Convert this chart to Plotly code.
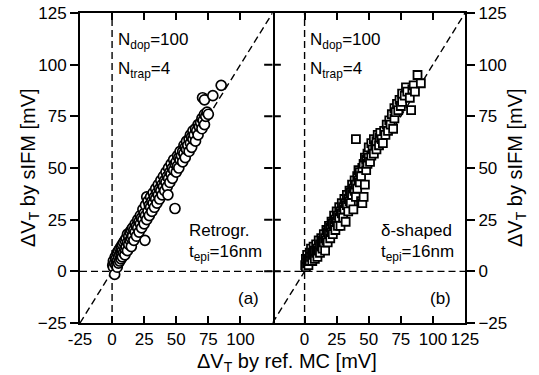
import plotly.graph_objects as go

# ---- data ----
retro_x = [0.5, 1, 1, 2, 2, 2.5, 3, 3, 4, 4,
           4, 5, 5, 5, 6, 6, 6, 7, 7, 7,
           8, 8, 8, 9, 9, 10, 10, 10, 11, 11,
           12, 12, 12, 13, 13, 14, 14, 15, 15, 15,
           16, 16, 17, 17, 18, 18, 19, 19, 20, 20,
           21, 21, 22, 22, 23, 23, 24, 24, 25, 25,
           25.6, 26, 26, 27, 27, 28, 28, 29, 29, 30,
           30, 31, 31, 32, 32, 33, 33, 34, 34, 35,
           35, 36, 36, 37, 37, 38, 38, 39, 39, 40,
           40, 41, 41, 42, 42, 43, 43, 43.5, 44, 44,
           45, 45, 46, 46, 47, 47, 48, 48, 49, 49,
           50, 50, 51, 51, 52, 52, 53, 53, 54, 55,
           55, 56, 56, 57, 57, 58, 58, 59, 60, 60,
           61, 61, 62, 62, 63, 63, 64, 65, 65, 66,
           67, 67, 68, 69, 70, 70, 71, 72, 72, 73,
           74, 75, 70.5, 72, 78.5, 85]
retro_y = [3, 2, 5, -1.5, 4, 7, 3, 6, 5, 9,
           2, 4, 7, 10, 5, 8, 11, 6, 9, 12,
           7, 10, 13, 9, 14, 8, 11, 15, 12, 16,
           10, 14, 18, 13, 17, 15, 19, 12, 16, 20,
           17, 21, 15, 20, 19, 23, 17, 22, 21, 25,
           19, 24, 23, 27, 21, 26, 25, 30, 23, 28,
           15, 27, 32, 25, 36, 29, 34, 27, 32, 31,
           36, 29, 34, 33, 38, 31, 36, 35, 40, 33,
           38, 37, 42, 35, 40, 39, 44, 37, 42, 41,
           46, 39, 44, 43, 48, 41, 46, 37, 45, 50,
           43, 48, 47, 52, 45, 50, 49, 54, 30.4, 52,
           48, 53, 51, 56, 50, 55, 54, 58, 56, 53,
           58, 57, 61, 55, 60, 59, 63, 61, 58, 64,
           62, 66, 60, 65, 64, 68, 66, 63, 69, 68,
           66, 71, 70, 72, 69, 74, 73, 71, 76, 75,
           77, 76, 84, 83, 85, 90]

delta_x = [0.5, 1, 1, 2, 2, 3, 3, 4, 4, 5,
           5, 6, 6, 7, 7, 8, 8, 9, 9, 10,
           10, 11, 11, 12, 12, 13, 13, 14, 14, 15,
           15, 16, 16, 17, 17, 18, 18, 19, 19, 20,
           20, 21, 21, 22, 22, 23, 23, 24, 24, 25,
           25, 26, 26, 27, 27, 28, 28, 29, 29, 30,
           30, 31, 31, 32, 32, 33, 33, 34, 34, 35,
           35, 36, 36, 37, 37, 38, 38, 39, 39, 40,
           40, 40, 41, 41, 42, 42, 43, 43, 44, 44,
           45, 45, 46, 46, 47, 47, 48, 48, 49, 49,
           50, 50, 51, 52, 52, 53, 54, 54, 55, 56,
           56, 57, 58, 58.6, 59, 60, 61, 62, 63, 64,
           65, 66, 67, 68, 69, 70, 70, 71, 72, 73,
           74, 75, 76, 76, 78, 79, 80, 82, 83, 84,
           85, 86, 88, 90.6]
delta_y = [3, 6, 2, 4, 8, 3, 6, 9, 5, 7,
           11, 5, 9, 8, 12, 6, 10, 9, 13, 7,
           11, 10, 15, 9, 13, 12, 16, 11, 15, 14,
           18, 10, 16, 15, 20, 14, 19, 18, 22, 16,
           21, 19, 24, 18, 23, 22, 27, 20, 25, 24,
           29, 22, 27, 26, 31, 22, 29, 28, 33, 26,
           31, 30, 35, 24, 33, 32, 37, 29, 35, 34,
           39, 33, 38, 37, 42, 30, 40, 39, 44, 36,
           42, 64, 40, 46, 44, 49, 43, 48, 34, 46,
           33, 50, 36, 52, 42, 55, 49, 54, 52, 57,
           55, 60, 53, 56, 62, 59, 57, 64, 61, 63,
           59, 66, 61, 64.7, 67, 64, 62, 68, 66, 71,
           68, 73, 71, 76, 69, 74, 79, 77, 81, 78,
           83, 80, 86, 82, 85, 89, 87, 84, 78, 88,
           90, 87, 95, 91]

x_ticks_a = [-25, 0, 25, 50, 75, 100]
x_ticks_b = [0, 25, 50, 75, 100, 125]
y_ticks = [-25, 0, 25, 50, 75, 100, 125]
ax_range = [-25, 125]

FONT = "Liberation Sans, Arial, sans-serif"

fig = go.Figure()
fig.add_trace(go.Scatter(x=retro_x, y=retro_y, mode="markers", xaxis="x", yaxis="y",
                         marker=dict(symbol="circle", size=10, color="white",
                                     line=dict(width=1.7, color="black")),
                         showlegend=False))
fig.add_trace(go.Scatter(x=delta_x, y=delta_y, mode="markers", xaxis="x2", yaxis="y2",
                         marker=dict(symbol="square", size=8, color="white",
                                     line=dict(width=1.8, color="black")),
                         showlegend=False))

shapes = []
for xr, yr in [("x", "y"), ("x2", "y2")]:
    dl = dict(color="black", width=1.4, dash="7px,4px")
    shapes.append(dict(type="line", xref=xr, yref=yr, x0=0, x1=0, y0=-25, y1=125, line=dl, layer="below"))
    shapes.append(dict(type="line", xref=xr, yref=yr, x0=-25, x1=125, y0=0, y1=0, line=dl, layer="below"))
    shapes.append(dict(type="line", xref=xr, yref=yr, x0=-25, x1=125, y0=-25, y1=125, line=dl, layer="below"))
# tick marks crossing the divider between the two panels (one half on each side)
tick_units = 6.5
for v in y_ticks[1:-1]:
    shapes.append(dict(type="line", xref="x", yref="y", x0=ax_range[1] - tick_units, x1=ax_range[1],
                       y0=v, y1=v, line=dict(color="black", width=2), layer="above"))
    shapes.append(dict(type="line", xref="x2", yref="y2", x0=ax_range[0], x1=ax_range[0] + tick_units,
                       y0=v, y1=v, line=dict(color="black", width=2), layer="above"))

axcommon = dict(range=ax_range, showgrid=False, zeroline=False, showline=True, linecolor="black",
                linewidth=2, tickcolor="black", tickwidth=2, automargin=False,
                tickfont=dict(family=FONT, size=17, color="black"))

fig.update_layout(
    template="none",
    showlegend=False,
    width=539, height=375,
    margin=dict(l=80, r=74, t=13, b=52),
    paper_bgcolor="white", plot_bgcolor="rgba(0,0,0,0)",
    xaxis=dict(domain=[0, 0.5], anchor="y", ticks="inside", ticklen=7, mirror="ticks",
               tickvals=x_ticks_a, ticktext=[str(v) for v in x_ticks_a], **axcommon),
    xaxis2=dict(domain=[0.5, 1], anchor="y2", ticks="inside", ticklen=7, mirror="ticks",
                tickvals=x_ticks_b, ticktext=[str(v) for v in x_ticks_b], **axcommon),
    yaxis=dict(domain=[0, 1], anchor="x", ticks="outside", ticklen=8, mirror=True,
               tickvals=y_ticks, **axcommon),
    yaxis2=dict(domain=[0, 1], anchor="x2", side="right", ticks="outside", ticklen=8, mirror=False,
                tickvals=y_ticks, **axcommon),
    shapes=shapes,
    font=dict(family=FONT, color="black"),
)

ann = []
tf = dict(family=FONT, size=17, color="black")
titf = dict(family=FONT, size=20, color="black")
ann.append(dict(text="ΔV<sub>T</sub> by ref. MC [mV]", xref="paper", yref="paper", x=(287 - 80) / 385,
                y=-(363 - 323) / 310, xanchor="center", yanchor="middle", showarrow=False, font=titf))
ann.append(dict(text="ΔV<sub>T</sub> by sIFM [mV]", xref="paper", yref="paper", x=-(80 - 29) / 385, y=0.5,
                xanchor="center", yanchor="middle", textangle=-90, showarrow=False, font=titf))
ann.append(dict(text="ΔV<sub>T</sub> by sIFM [mV]", xref="paper", yref="paper", x=1 + (516 - 465) / 385, y=0.5,
                xanchor="center", yanchor="middle", textangle=-90, showarrow=False, font=titf))
for xr, yr, t1, t2, t3 in [("x", "y", "Retrogr.", "t<sub>epi</sub>=16nm", "(a)"),
                           ("x2", "y2", "δ-shaped", "t<sub>epi</sub>=16nm", "(b)")]:
    ann.append(dict(text="N<sub>dop</sub>=100", xref=xr, yref=yr, x=3, y=111.5, xanchor="left",
                    yanchor="middle", showarrow=False, font=tf))
    ann.append(dict(text="N<sub>trap</sub>=4", xref=xr, yref=yr, x=3, y=97.5, xanchor="left",
                    yanchor="middle", showarrow=False, font=tf))
    ann.append(dict(text=t1, xref=xr, yref=yr, x=58, y=19.8, xanchor="left", yanchor="middle",
                    showarrow=False, font=tf))
    ann.append(dict(text=t2, xref=xr, yref=yr, x=58, y=8.7, xanchor="left", yanchor="middle",
                    showarrow=False, font=tf))
    ann.append(dict(text=t3, xref=xr, yref=yr, x=116, y=-13, xanchor="right", yanchor="middle",
                    showarrow=False, font=tf))
fig.update_layout(annotations=ann)

fig.write_html("out.html")
